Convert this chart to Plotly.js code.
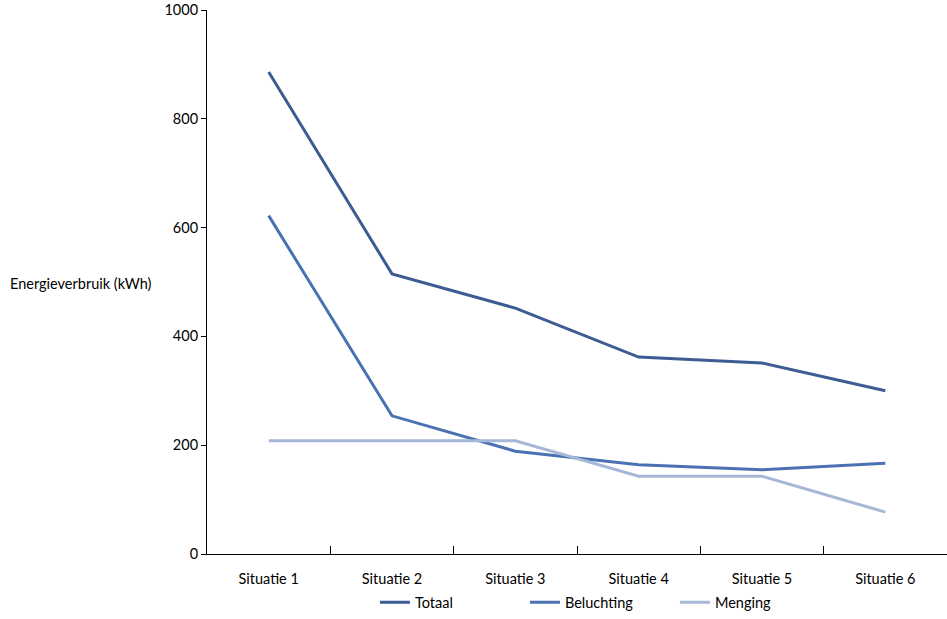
<!DOCTYPE html>
<html>
<head>
<meta charset="utf-8">
<script src="https://cdn.plot.ly/plotly-3.0.1.min.js"></script>
<style>
  html, body { margin: 0; padding: 0; background: #fff; }
  #plot { width: 947px; height: 619px; }
</style>
</head>
<body>
<div id="plot"></div>
<script>
// categories and series
var situaties = ["Situatie 1", "Situatie 2", "Situatie 3", "Situatie 4", "Situatie 5", "Situatie 6"];
var totaal = [886, 515, 452, 362, 351, 300];
var beluchting = [622, 254, 189, 164, 155, 167];
var menging = [208, 208, 208, 143, 143, 77];

var colors = ["#3D5C93", "#4A72B2", "#A7B7D8"];
var font = { family: "Lato, 'Open Sans', sans-serif", size: 14.5, color: "#000" };

function makeTrace(name, values, color) {
	return {
		x: situaties,
		y: values,
		name: name,
		type: "scatter",
		mode: "lines",
		line: { color: color, width: 3 },
		hoverinfo: "x+y+name"
	};
}

var traces = [
	makeTrace("Totaal", totaal, colors[0]),
	makeTrace("Beluchting", beluchting, colors[1]),
	makeTrace("Menging", menging, colors[2])
];

var layout = {
	width: 947,
	height: 619,
	margin: { l: 207, r: 0, t: 10, b: 65 },
	paper_bgcolor: "#fff",
	plot_bgcolor: "#fff",
	font: font,
	showlegend: true,
	legend: {
		orientation: "h",
		x: 0.531,
		xanchor: "center",
		y: -0.089,
		yanchor: "middle",
		font: font,
		itemwidth: 30,
		entrywidth: 105
	},
	xaxis: {
		type: "category",
		range: [-0.5, 5.5],
		showline: true,
		linecolor: "#000",
		linewidth: 1,
		ticks: "inside",
		tickson: "boundaries",
		ticklen: 8,
		tickcolor: "#000",
		ticklabelstandoff: 12,
		showgrid: false,
		zeroline: false,
		automargin: false,
		tickfont: font,
		fixedrange: true
	},
	yaxis: {
		range: [0, 1000],
		dtick: 200,
		showline: true,
		linecolor: "#000",
		linewidth: 1,
		ticks: "outside",
		ticklen: 5,
		tickcolor: "#000",
		showgrid: false,
		zeroline: false,
		automargin: false,
		tickfont: font,
		fixedrange: true
	},
	annotations: [{
		text: "Energieverbruik (kWh)",
		xref: "paper",
		yref: "paper",
		x: -0.269,
		xanchor: "left",
		y: 0.498,
		yanchor: "middle",
		showarrow: false,
		font: font
	}]
};

Plotly.newPlot("plot", traces, layout, { displayModeBar: false, staticPlot: true });
</script>
</body>
</html>
